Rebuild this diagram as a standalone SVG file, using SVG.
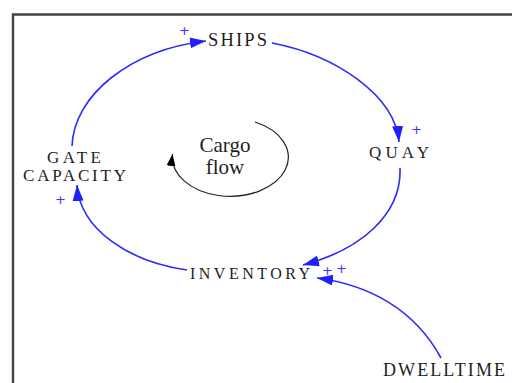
<svg xmlns="http://www.w3.org/2000/svg" width="512" height="383" viewBox="0 0 512 383">
  <style>
    .node { font-family: "Liberation Serif", "Times New Roman", serif; fill: #1e1e1e; }
    .sign { font-family: "DejaVu Sans", sans-serif; font-size: 13px; fill: #3333ff; }
    .link { fill: none; stroke: #2a2aff; stroke-width: 1.6; marker-end: url(#blueHead); }
    .cycle { fill: none; stroke: #222; stroke-width: 1.2; marker-end: url(#blackHead); }
    .frame { fill: none; stroke: #444; stroke-width: 2.4; }
  </style>
  <defs>
    <marker id="blueHead" markerUnits="userSpaceOnUse" markerWidth="17" markerHeight="12" refX="16" refY="5.5" orient="auto">
      <path d="M0,0 L16,5.5 L0,11 z" fill="#2020ff"/>
    </marker>
    <marker id="blackHead" markerUnits="userSpaceOnUse" markerWidth="13" markerHeight="10" refX="12" refY="4.5" orient="auto">
      <path d="M0,0 L12,4.5 L0,9 z" fill="#000"/>
    </marker>
  </defs>

  <rect width="512" height="383" fill="#fff"/>
  <path class="frame" d="M13,390 V14.5 H520"/>

  <g id="connectors">
    <path class="link" d="M72,146 C74,95 130,50 206,41"/>
    <path class="link" d="M272,43 C335,55 395,95 399,142"/>
    <path class="link" d="M400,168 C402,215 360,250 303,265"/>
    <path class="link" d="M187,270 C130,262 80,230 77,185"/>
    <path class="link" d="M441,358 C415,310 370,285 317,278"/>
  </g>

  <g id="polarity">
    <text class="sign" x="179" y="35">+</text>
    <text class="sign" x="411" y="134">+</text>
    <text class="sign" x="322" y="275">+</text>
    <text class="sign" x="336" y="273">+</text>
    <text class="sign" x="55" y="204">+</text>
  </g>

  <g id="ships">
    <text class="node" x="208" y="46" style="font-size:18.5px" textLength="59" lengthAdjust="spacing">SHIPS</text>
  </g>
  <g id="quay">
    <text class="node" x="369" y="158" style="font-size:17px" textLength="60" lengthAdjust="spacing">QUAY</text>
  </g>
  <g id="gate-capacity">
    <text class="node" x="47" y="163" style="font-size:17px" textLength="54" lengthAdjust="spacing">GATE</text>
    <text class="node" x="23" y="181" style="font-size:17px" textLength="103" lengthAdjust="spacing">CAPACITY</text>
  </g>
  <g id="inventory">
    <text class="node" x="190" y="279" style="font-size:16px" textLength="120" lengthAdjust="spacing">INVENTORY</text>
  </g>
  <g id="dwelltime">
    <text class="node" x="383" y="376" style="font-size:18px" textLength="122" lengthAdjust="spacing">DWELLTIME</text>
  </g>

  <g id="cargo-flow">
    <path class="cycle" d="M255,122 A58,39 0 1 1 172.5,154"/>
    <text class="node" x="225" y="152" style="font-size:21px" text-anchor="middle">Cargo</text>
    <text class="node" x="225" y="174" style="font-size:21px" text-anchor="middle">flow</text>
  </g>
</svg>
